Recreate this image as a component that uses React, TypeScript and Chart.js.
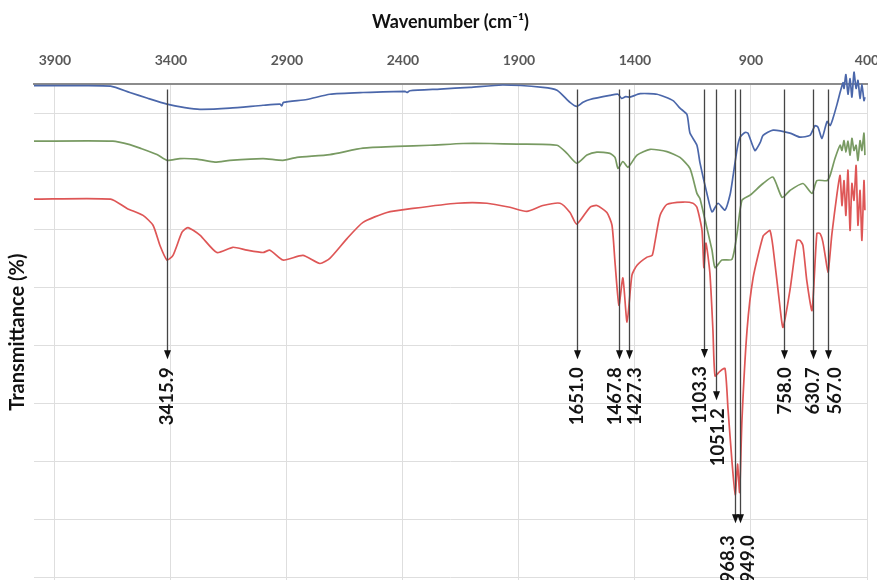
import React, { useEffect, useRef } from "react";
import { Chart, registerables } from "chart.js";
Chart.register(...registerables);

// ---- axes ----
const xTickValues = [400, 900, 1400, 1900, 2400, 2900, 3400, 3900];
const yGridValues = [20, 30, 40, 50, 60, 70, 80, 90, 100];
const xTitle = "Wavenumber (cm\u207B\u00B9)";
const yTitle = "Transmittance (%)";

// ---- series (wavenumber, transmittance) ----
const blueWn = [3990, 3800, 3660, 3577, 3500, 3417, 3340, 3275, 3146, 3003, 2930, 2922, 2915, 2814, 2715, 2572, 2391, 2383, 2370, 2240, 2111, 1969, 1797, 1736, 1680, 1651, 1624, 1594, 1508, 1473, 1458, 1440, 1422, 1378, 1305, 1236, 1206, 1176, 1163, 1133, 1120, 1090, 1068, 1042, 1012, 990, 978, 960, 947, 926, 913, 883, 860, 848, 805, 732, 689, 646, 624, 611, 594, 572, 559, 547, 529, 516, 503, 499, 491, 482, 473, 465, 456, 447, 439, 430, 422, 413, 409];
const blueT = [104.8, 104.8, 104.7, 103.6, 102.6, 101.6, 101.0, 100.7, 100.9, 101.4, 101.6, 101.3, 101.9, 102.4, 103.3, 103.6, 103.8, 103.6, 103.9, 104.2, 104.5, 104.9, 104.5, 104.0, 101.9, 101.2, 101.9, 102.4, 103.1, 103.3, 102.6, 102.9, 102.8, 103.4, 103.3, 102.2, 100.9, 99.8, 96.6, 94.5, 91.5, 86.2, 83.0, 84.5, 83.3, 86.0, 89.0, 93.8, 95.9, 96.7, 96.6, 93.6, 95.0, 96.2, 97.1, 96.6, 95.9, 96.2, 97.9, 97.6, 95.7, 98.6, 97.9, 99.1, 101.6, 103.6, 105.3, 104.3, 106.7, 103.3, 106.0, 102.8, 107.1, 104.3, 105.7, 102.6, 105.0, 102.2, 102.8];

const greenWn = [3990, 3650, 3577, 3533, 3460, 3417, 3361, 3288, 3210, 3146, 3003, 2917, 2857, 2715, 2572, 2426, 2284, 2141, 2025, 1909, 1736, 1693, 1651, 1607, 1564, 1508, 1486, 1473, 1452, 1430, 1391, 1335, 1262, 1206, 1163, 1133, 1120, 1098, 1068, 1055, 1025, 982, 960, 939, 904, 848, 805, 766, 732, 676, 637, 616, 572, 559, 538, 516, 508, 499, 491, 482, 473, 465, 456, 447, 439, 430, 422, 413, 409];
const greenT = [95.2, 95.2, 94.6, 94.0, 92.9, 91.9, 92.2, 92.1, 91.6, 91.9, 92.2, 91.9, 92.4, 92.9, 94.0, 94.3, 94.5, 94.8, 94.8, 94.7, 94.5, 93.1, 91.4, 92.8, 93.3, 93.1, 92.4, 90.5, 91.7, 90.7, 92.8, 93.8, 93.4, 92.4, 90.5, 86.2, 85.3, 81.6, 76.4, 73.4, 74.7, 74.8, 79.3, 85.0, 85.9, 87.9, 89.0, 85.5, 86.7, 87.9, 86.2, 88.4, 88.4, 89.3, 92.2, 94.5, 93.6, 95.3, 93.3, 95.2, 92.8, 95.7, 93.6, 94.5, 91.9, 95.3, 93.6, 96.6, 92.8];

const redWn = [3990, 3660, 3589, 3520, 3477, 3447, 3417, 3391, 3352, 3327, 3275, 3202, 3133, 3072, 3003, 2973, 2917, 2831, 2758, 2715, 2641, 2572, 2469, 2357, 2167, 2038, 1939, 1866, 1797, 1723, 1680, 1651, 1594, 1564, 1521, 1499, 1486, 1469, 1452, 1434, 1413, 1391, 1348, 1326, 1314, 1292, 1262, 1193, 1150, 1133, 1111, 1103, 1094, 1077, 1064, 1055, 1034, 1012, 999, 982, 968, 958, 949, 939, 917, 891, 848, 830, 818, 805, 775, 762, 732, 702, 689, 676, 659, 637, 616, 603, 590, 572, 567, 551, 529, 516, 508, 499, 491, 482, 473, 465, 456, 447, 439, 430, 422, 413, 409];
const redT = [85.2, 85.2, 83.6, 82.4, 80.7, 77.2, 74.7, 75.5, 79.5, 80.3, 79.0, 76.0, 76.9, 76.4, 76.0, 76.4, 74.7, 75.5, 74.1, 75.0, 78.4, 81.2, 82.9, 83.6, 84.5, 84.5, 83.8, 83.1, 84.1, 84.5, 82.9, 80.9, 83.8, 84.1, 82.9, 80.7, 74.3, 66.9, 71.6, 64.0, 72.1, 73.8, 75.2, 75.5, 77.8, 82.4, 84.3, 84.7, 84.5, 83.8, 79.8, 73.4, 77.6, 72.4, 62.6, 54.7, 55.5, 56.0, 49.0, 40.0, 34.2, 39.5, 34.6, 47.0, 62.6, 71.6, 78.8, 79.5, 79.8, 76.9, 66.6, 63.1, 69.5, 78.1, 78.1, 77.2, 71.0, 66.0, 79.3, 79.3, 77.8, 73.4, 72.6, 79.3, 86.2, 89.3, 84.1, 88.4, 82.4, 90.2, 79.8, 87.9, 85.0, 91.0, 80.7, 86.7, 78.1, 88.4, 83.3];

// ---- peak annotations ----
const peakWn = [3415.9, 1651.0, 1467.8, 1427.3, 1103.3, 1051.2, 968.3, 949.0, 758.0, 630.7, 567.0];
const peakLabels = ["3415.9", "1651.0", "1467.8", "1427.3", "1103.3", "1051.2", "968.3", "949.0", "758.0", "630.7", "567.0"];
const peakTipT = [57.6, 57.6, 57.6, 57.6, 57.8, 50.5, 29.3, 29.3, 57.6, 57.6, 57.6];
const peakLineTopT = 104.1;

const X_MIN = 400;
const X_MAX = 3990;
const Y_MIN = 19.5;
const Y_MAX = 105;

const toPoints = (xs: number[], ys: number[]) => xs.map((x, i) => ({ x, y: ys[i] }));

const peakPlugin = {
  id: "peakArrows",
  afterDatasetsDraw(chart: any, _args: any, opts: any) {
    const { ctx } = chart;
    const xs = chart.scales.x;
    const ys = chart.scales.y;
    const dx: number[] = opts.labelDx || [];
    ctx.save();
    peakWn.forEach((wn, i) => {
      const x = Math.round(xs.getPixelForValue(wn)) + 0.5;
      const yTop = ys.getPixelForValue(peakLineTopT);
      const yTip = ys.getPixelForValue(peakTipT[i]);
      ctx.strokeStyle = "#454545";
      ctx.lineWidth = 1.3;
      ctx.beginPath();
      ctx.moveTo(x, yTop);
      ctx.lineTo(x, yTip - 7);
      ctx.stroke();
      ctx.fillStyle = "#111";
      ctx.beginPath();
      ctx.moveTo(x, yTip);
      ctx.lineTo(x - 3.5, yTip - 9);
      ctx.lineTo(x + 3.5, yTip - 9);
      ctx.closePath();
      ctx.fill();
      ctx.save();
      const gap = peakTipT[i] < 40 ? 12 : 8;
      ctx.translate(x + (dx[i] || 0), yTip + gap);
      ctx.rotate(-Math.PI / 2);
      ctx.font = "bold 18.5px Lato, 'Open Sans', sans-serif";
      ctx.fillStyle = "#151515";
      ctx.textAlign = "right";
      ctx.textBaseline = "middle";
      ctx.fillText(peakLabels[i], 0, 0);
      ctx.restore();
    });
    ctx.restore();
  },
};

export default function App() {
  const ref = useRef<HTMLCanvasElement | null>(null);
  useEffect(() => {
    document.body.style.margin = "0";
    const canvas = ref.current;
    if (!canvas) return;
    const lineDs = (label: string, data: any[], color: string) => ({
      label,
      data,
      borderColor: color,
      backgroundColor: color,
      borderWidth: 1.7,
      pointRadius: 0,
      tension: 0.2,
      fill: false,
      clip: false as any,
    });
    const chart = new Chart(canvas, {
      type: "line",
      data: {
        datasets: [
          lineDs("Sample 1", toPoints(blueWn, blueT), "#4b67aa"),
          lineDs("Sample 2", toPoints(greenWn, greenT), "#789a62"),
          lineDs("Sample 3", toPoints(redWn, redT), "#de5656"),
        ],
      },
      options: {
        animation: false,
        responsive: false,
        devicePixelRatio: 1,
        layout: { padding: { top: 4, left: 0, right: 10, bottom: 0 } },
        plugins: {
          legend: { display: false },
          tooltip: { enabled: false },
          peakArrows: { labelDx: [0, 0, -4, 6, -4, 2, -7, 8, 1, 0, 7] },
        } as any,
        scales: {
          x: {
            type: "linear",
            position: "top",
            reverse: true,
            min: X_MIN,
            max: X_MAX,
            afterBuildTicks: (scale: any) => {
              scale.ticks = xTickValues.map((v) => ({ value: v }));
            },
            ticks: {
              autoSkip: false,
              maxRotation: 0,
              padding: 16,
              color: "#595959",
              font: { family: "Lato, 'Open Sans', sans-serif", size: 14, weight: "bold" },
              callback: (v: any) => String(v),
            },
            grid: { color: "#dedede", lineWidth: 1, drawTicks: false },
            border: { display: true, color: "#8c8c8c", width: 2 },
            title: {
              display: true,
              text: xTitle,
              color: "#111",
              font: { family: "Lato, 'Open Sans', sans-serif", size: 18, weight: "bold" },
              padding: { top: 7, bottom: 3 },
            },
          },
          y: {
            type: "linear",
            min: Y_MIN,
            max: Y_MAX,
            afterBuildTicks: (scale: any) => {
              scale.ticks = yGridValues.map((v) => ({ value: v }));
            },
            ticks: { display: false },
            grid: { color: "#dedede", lineWidth: 1, drawTicks: false },
            border: { display: false },
            title: {
              display: true,
              text: yTitle,
              color: "#111",
              font: { family: "Lato, 'Open Sans', sans-serif", size: 20, weight: "bold" },
              padding: { top: 6, bottom: 4 },
            },
          },
        },
      } as any,
      plugins: [peakPlugin],
    });
    return () => chart.destroy();
  }, []);
  return (
    <div style={{ width: 877, height: 580, background: "#fff" }}>
      <canvas ref={ref} width={877} height={580} style={{ display: "block" }} />
    </div>
  );
}
